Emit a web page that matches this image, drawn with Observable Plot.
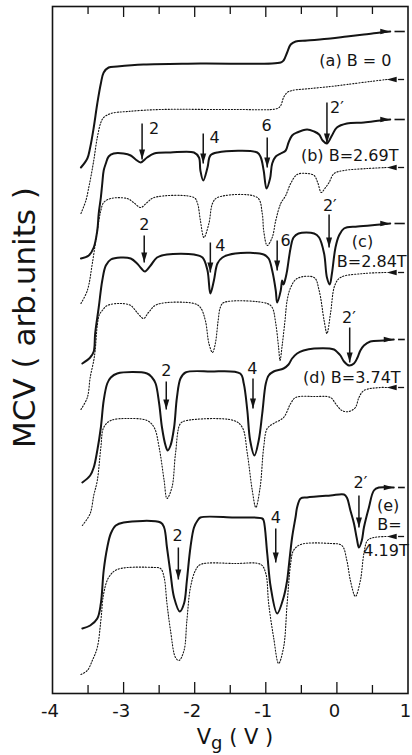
<!DOCTYPE html>
<html><head><meta charset="utf-8">
<script src="https://cdn.jsdelivr.net/npm/d3@7"></script>
<script src="https://cdn.jsdelivr.net/npm/@observablehq/plot@0.6"></script>
<style>
body{margin:0;background:#fff;}
#wrap{position:relative;width:412px;height:755px;font-family:"DejaVu Sans",sans-serif;color:#111;}
#xlabel{position:absolute;top:727px;left:0;width:470px;text-align:center;font-size:21px;line-height:21px;}
#xlabel sub{font-size:18px;vertical-align:-5px;line-height:0;}
</style>
</head><body>
<div id="wrap"><div id="chart"></div><div id="xlabel">V<sub>g</sub> ( V )</div></div>
<script>
// ---- data: [Vg (V), MCV (arb. units)] ----
const solidA = [[-3.60,526],[-3.51,535],[-3.47,546],[-3.42,566],[-3.37,590],[-3.32,610],[-3.28,621],[-3.21,626],[-3.09,627],[-2.72,629],[-1.92,630],[-0.79,631],[-0.75,633],[-0.70,641],[-0.65,649],[-0.58,652],[-0.42,653],[-0.09,655],[0.14,657],[0.38,659],[0.61,661],[0.75,662]];
const dottedA = [[-3.60,480],[-3.53,493],[-3.49,506],[-3.47,513],[-3.42,533],[-3.37,556],[-3.32,571],[-3.28,576],[-3.18,580],[-2.95,582],[-2.48,584],[-1.43,584],[-0.84,585],[-0.79,588],[-0.75,596],[-0.70,601],[-0.63,603],[-0.37,605],[-0.09,607],[0.14,609],[0.47,612],[0.70,614]];
const solidB = [[-3.60,435],[-3.49,438],[-3.42,446],[-3.37,463],[-3.35,480],[-3.32,496],[-3.30,510],[-3.28,523],[-3.25,530],[-3.21,537],[-3.14,540],[-3.00,540],[-2.90,538],[-2.83,534],[-2.76,531],[-2.67,536],[-2.57,540],[-2.34,541],[-2.01,541],[-1.94,536],[-1.92,523],[-1.88,513],[-1.82,526],[-1.78,538],[-1.68,541],[-1.12,541],[-1.07,536],[-1.03,523],[-0.99,505],[-0.94,515],[-0.91,530],[-0.86,537],[-0.79,540],[-0.72,543],[-0.68,551],[-0.63,558],[-0.56,561],[-0.42,564],[-0.32,562],[-0.25,559],[-0.20,553],[-0.14,550],[-0.07,558],[0.00,566],[0.14,570],[0.38,571],[0.61,573],[0.75,574]];
const dottedB = [[-3.60,390],[-3.51,403],[-3.44,430],[-3.37,463],[-3.32,483],[-3.28,491],[-3.18,495],[-2.95,495],[-2.86,491],[-2.76,486],[-2.67,491],[-2.57,496],[-2.01,496],[-1.96,490],[-1.92,473],[-1.87,456],[-1.80,470],[-1.75,490],[-1.68,496],[-1.12,496],[-1.05,480],[-1.03,463],[-0.98,448],[-0.91,456],[-0.86,473],[-0.79,490],[-0.72,498],[-0.65,510],[-0.56,519],[-0.42,520],[-0.32,518],[-0.27,511],[-0.22,501],[-0.17,505],[-0.11,511],[-0.04,520],[0.10,523],[0.43,525],[0.70,526]];
const solidC = [[-3.58,330],[-3.47,336],[-3.42,342],[-3.40,360],[-3.35,386],[-3.30,413],[-3.25,428],[-3.18,434],[-3.04,436],[-2.90,435],[-2.81,430],[-2.75,425],[-2.70,422],[-2.62,428],[-2.53,436],[-2.39,439],[-2.01,439],[-1.89,436],[-1.82,423],[-1.78,400],[-1.73,413],[-1.68,430],[-1.61,436],[-1.43,440],[-1.03,439],[-0.96,435],[-0.91,423],[-0.86,403],[-0.84,391],[-0.79,403],[-0.77,413],[-0.75,409],[-0.72,416],[-0.70,423],[-0.65,446],[-0.61,456],[-0.54,460],[-0.32,460],[-0.25,456],[-0.18,440],[-0.14,416],[-0.10,409],[-0.07,420],[-0.02,446],[0.03,458],[0.10,465],[0.29,467],[0.61,469],[0.75,470]];
const dottedC = [[-3.60,284],[-3.51,296],[-3.47,316],[-3.42,333],[-3.40,343],[-3.37,368],[-3.34,379],[-3.30,383],[-3.23,388],[-3.04,390],[-2.90,388],[-2.81,381],[-2.72,375],[-2.65,381],[-2.53,389],[-2.01,390],[-1.92,386],[-1.85,373],[-1.80,350],[-1.75,341],[-1.71,350],[-1.67,373],[-1.64,386],[-1.59,391],[-0.98,390],[-0.91,386],[-0.86,370],[-0.82,346],[-0.80,333],[-0.77,348],[-0.73,373],[-0.70,393],[-0.65,406],[-0.56,415],[-0.32,416],[-0.25,403],[-0.18,373],[-0.14,360],[-0.09,380],[-0.03,408],[0.05,416],[0.38,420],[0.70,421]];
const solidD = [[-3.58,211],[-3.47,218],[-3.42,226],[-3.37,243],[-3.32,266],[-3.28,293],[-3.23,310],[-3.18,316],[-3.09,320],[-2.67,320],[-2.60,316],[-2.55,310],[-2.50,290],[-2.46,266],[-2.41,248],[-2.38,243],[-2.34,248],[-2.29,266],[-2.25,296],[-2.20,315],[-2.13,321],[-1.78,322],[-1.36,320],[-1.31,310],[-1.26,283],[-1.22,253],[-1.16,238],[-1.10,253],[-1.05,280],[-1.00,310],[-0.96,318],[-0.89,322],[-0.75,325],[-0.68,329],[-0.63,335],[-0.56,340],[-0.47,343],[-0.32,345],[-0.04,344],[0.01,341],[0.05,338],[0.10,332],[0.17,328],[0.24,330],[0.29,336],[0.33,343],[0.38,348],[0.47,352],[0.66,353],[0.80,354]];
const dottedD = [[-3.58,168],[-3.47,180],[-3.42,198],[-3.37,213],[-3.32,246],[-3.28,266],[-3.18,273],[-2.95,275],[-2.67,273],[-2.57,266],[-2.50,246],[-2.43,213],[-2.39,195],[-2.32,206],[-2.27,240],[-2.20,270],[-2.11,273],[-1.45,273],[-1.33,266],[-1.26,240],[-1.19,203],[-1.14,186],[-1.08,206],[-1.03,246],[-0.98,265],[-0.89,270],[-0.75,276],[-0.65,290],[-0.58,296],[-0.32,297],[-0.09,296],[-0.02,290],[0.07,283],[0.17,282],[0.26,286],[0.31,296],[0.38,303],[0.61,306],[0.70,306]];
const solidE = [[-3.58,65],[-3.47,68],[-3.37,75],[-3.32,90],[-3.28,123],[-3.23,146],[-3.18,160],[-3.11,168],[-3.00,171],[-2.48,171],[-2.43,166],[-2.39,146],[-2.34,120],[-2.29,96],[-2.21,82],[-2.15,90],[-2.11,113],[-2.06,146],[-2.01,166],[-1.96,173],[-1.92,176],[-1.45,176],[-1.05,175],[-1.03,173],[-0.98,140],[-0.93,106],[-0.84,80],[-0.75,96],[-0.70,113],[-0.68,125],[-0.63,156],[-0.58,177],[-0.56,186],[-0.51,195],[-0.42,196],[-0.09,198],[0.10,199],[0.14,196],[0.19,183],[0.24,170],[0.28,155],[0.31,146],[0.35,153],[0.38,166],[0.45,186],[0.52,203],[0.59,206],[0.80,206]];
const dottedE = [[-3.60,19],[-3.51,23],[-3.44,33],[-3.37,46],[-3.32,73],[-3.28,100],[-3.21,116],[-3.09,124],[-2.57,126],[-2.48,125],[-2.43,116],[-2.39,90],[-2.34,63],[-2.27,36],[-2.22,33],[-2.15,43],[-2.11,73],[-2.06,106],[-1.99,123],[-1.92,129],[-1.43,130],[-1.07,129],[-1.00,120],[-0.96,90],[-0.89,56],[-0.82,30],[-0.75,46],[-0.70,90],[-0.65,130],[-0.61,143],[-0.51,149],[-0.09,150],[0.07,148],[0.14,133],[0.19,113],[0.26,97],[0.33,113],[0.38,140],[0.43,153],[0.52,156],[0.70,157]];

// filling-factor markers: label, Vg, arrow top, arrow tip, label position
const markLabels = ["2","4","6","2′", "2","4","6","2′", "2","4","2′", "2","4","2′"];
const markX      = [-2.74,-1.88,-0.98,-0.14, -2.71,-1.78,-0.84,-0.11, -2.40,-1.18,0.18, -2.23,-0.86,0.31];
const markTop    = [570,560,556,591, 458,451,453,479, 312,315,366, 146,165,198];
const markTip    = [534,530,526,550, 431,421,423,446, 284,285,331, 114,131,166];
const markLabelX = [-2.57,-1.72,-0.99,0.00, -2.71,-1.64,-0.72,-0.10, -2.40,-1.19,0.17, -2.24,-0.86,0.33];
const markLabelY = [565,556,568,586, 469,448,453,488, 323,325,376, 158,176,211];

// curve labels
const curveText = ["(a) B = 0","(b) B=2.69T","(c)","B=2.84T","(d) B=3.74T","(e)","B=","4.19T"];
const curveTextX = [0.26,0.18,0.36,0.49,0.21,0.72,0.74,0.69];
const curveTextY = [633,538,452,432,316,188,169,143];

// axis ticks
const tickLabels = [-4,-3,-2,-1,0,1];
const majorTicks = [-3,-2,-1,0];
const minorTicks = [-3.5,-2.5,-1.5,-0.5,0.5];

const yLabel = "MCV ( arb.units )";

// ---- build ----
const ink = "#141414";
const solids = [solidA, solidB, solidC, solidD, solidE];
const dotteds = [dottedA, dottedB, dottedC, dottedD, dottedE];
const toRows = (arr, id) => arr.map(([x, y]) => ({x, y, id}));
const solidRows = solids.flatMap((s, i) => toRows(s, "s" + i));
const dottedRows = dotteds.flatMap((s, i) => toRows(s, "d" + i));
const solidEnds = solids.map(s => s[s.length - 1]);
const dottedEnds = dotteds.map(s => s[s.length - 1]);
const marks = markLabels.map((t, i) => ({t, x: markX[i], top: markTop[i], tip: markTip[i], lx: markLabelX[i], ly: markLabelY[i]}));
const labels = curveText.map((t, i) => ({t, x: curveTextX[i], y: curveTextY[i]}));

const yTop = 687, majLen = 11, minLen = 8, tailEnd = 0.955;

const headDown = {draw(c) { c.moveTo(0, 0); c.lineTo(-3, -10); c.lineTo(3, -10); c.closePath(); }};
const headRight = {draw(c) { c.moveTo(0, 0); c.lineTo(-10, -2.7); c.lineTo(-10, 2.7); c.closePath(); }};
const headLeft = {draw(c) { c.moveTo(0, 0); c.lineTo(10, -2.7); c.lineTo(10, 2.7); c.closePath(); }};

const chart = Plot.plot({
  width: 412, height: 725,
  marginLeft: 52, marginRight: 4.5, marginTop: 6, marginBottom: 32,
  style: {fontFamily: "DejaVu Sans, sans-serif", fontSize: "16px", background: "#fff", color: ink, overflow: "visible"},
  x: {domain: [-4, 1]},
  y: {domain: [0, yTop], axis: null},
  marks: [
    Plot.frame({stroke: ink, strokeWidth: 1.6}),
    Plot.ruleX(majorTicks, {x: d => d, y1: 0, y2: majLen, stroke: ink, strokeWidth: 1.3}),
    Plot.ruleX(minorTicks, {x: d => d, y1: 0, y2: minLen, stroke: ink, strokeWidth: 1.3}),
    Plot.ruleX(majorTicks, {x: d => d, y1: yTop, y2: yTop - majLen, stroke: ink, strokeWidth: 1.3}),
    Plot.ruleX(minorTicks, {x: d => d, y1: yTop, y2: yTop - minLen, stroke: ink, strokeWidth: 1.3}),
    Plot.axisX(tickLabels, {tickSize: 0, tickPadding: 11, dx: -2.5, tickFormat: d => String(d), fontSize: 18, label: null}),
    Plot.line(dottedRows, {x: "x", y: "y", z: "id", curve: "catmull-rom", stroke: ink, strokeWidth: 1.1, strokeDasharray: "1.2,1.8"}),
    Plot.line(solidRows, {x: "x", y: "y", z: "id", curve: "catmull-rom", stroke: ink, strokeWidth: 2}),
    Plot.dot(solidEnds, {x: d => d[0], y: d => d[1], symbol: headRight, fill: ink, stroke: "none"}),
    Plot.link(solidEnds, {x1: d => d[0] + 0.06, x2: tailEnd, y1: d => d[1], y2: d => d[1], stroke: ink, strokeWidth: 1.6}),
    Plot.dot(dottedEnds, {x: d => d[0], y: d => d[1], symbol: headLeft, fill: ink, stroke: "none"}),
    Plot.link(dottedEnds, {x1: d => d[0] + 0.16, x2: tailEnd - 0.01, y1: d => d[1], y2: d => d[1], stroke: ink, strokeWidth: 1.3}),
    Plot.link(marks, {x1: "x", x2: "x", y1: "top", y2: "tip", stroke: ink, strokeWidth: 1.5}),
    Plot.dot(marks, {x: "x", y: "tip", symbol: headDown, fill: ink, stroke: "none"}),
    Plot.text(marks, {x: "lx", y: "ly", text: "t", fontSize: 16, fill: ink, lineAnchor: "middle"}),
    Plot.text(labels, {x: "x", y: "y", text: "t", fontSize: 16, fill: ink, lineAnchor: "middle"}),
    Plot.text([yLabel], {x: -4, y: 376, dx: -27, text: d => d, rotate: -90, fontSize: 31, fill: ink, lineAnchor: "middle"})
  ]
});
document.getElementById("chart").append(chart);
</script>
</body></html>
